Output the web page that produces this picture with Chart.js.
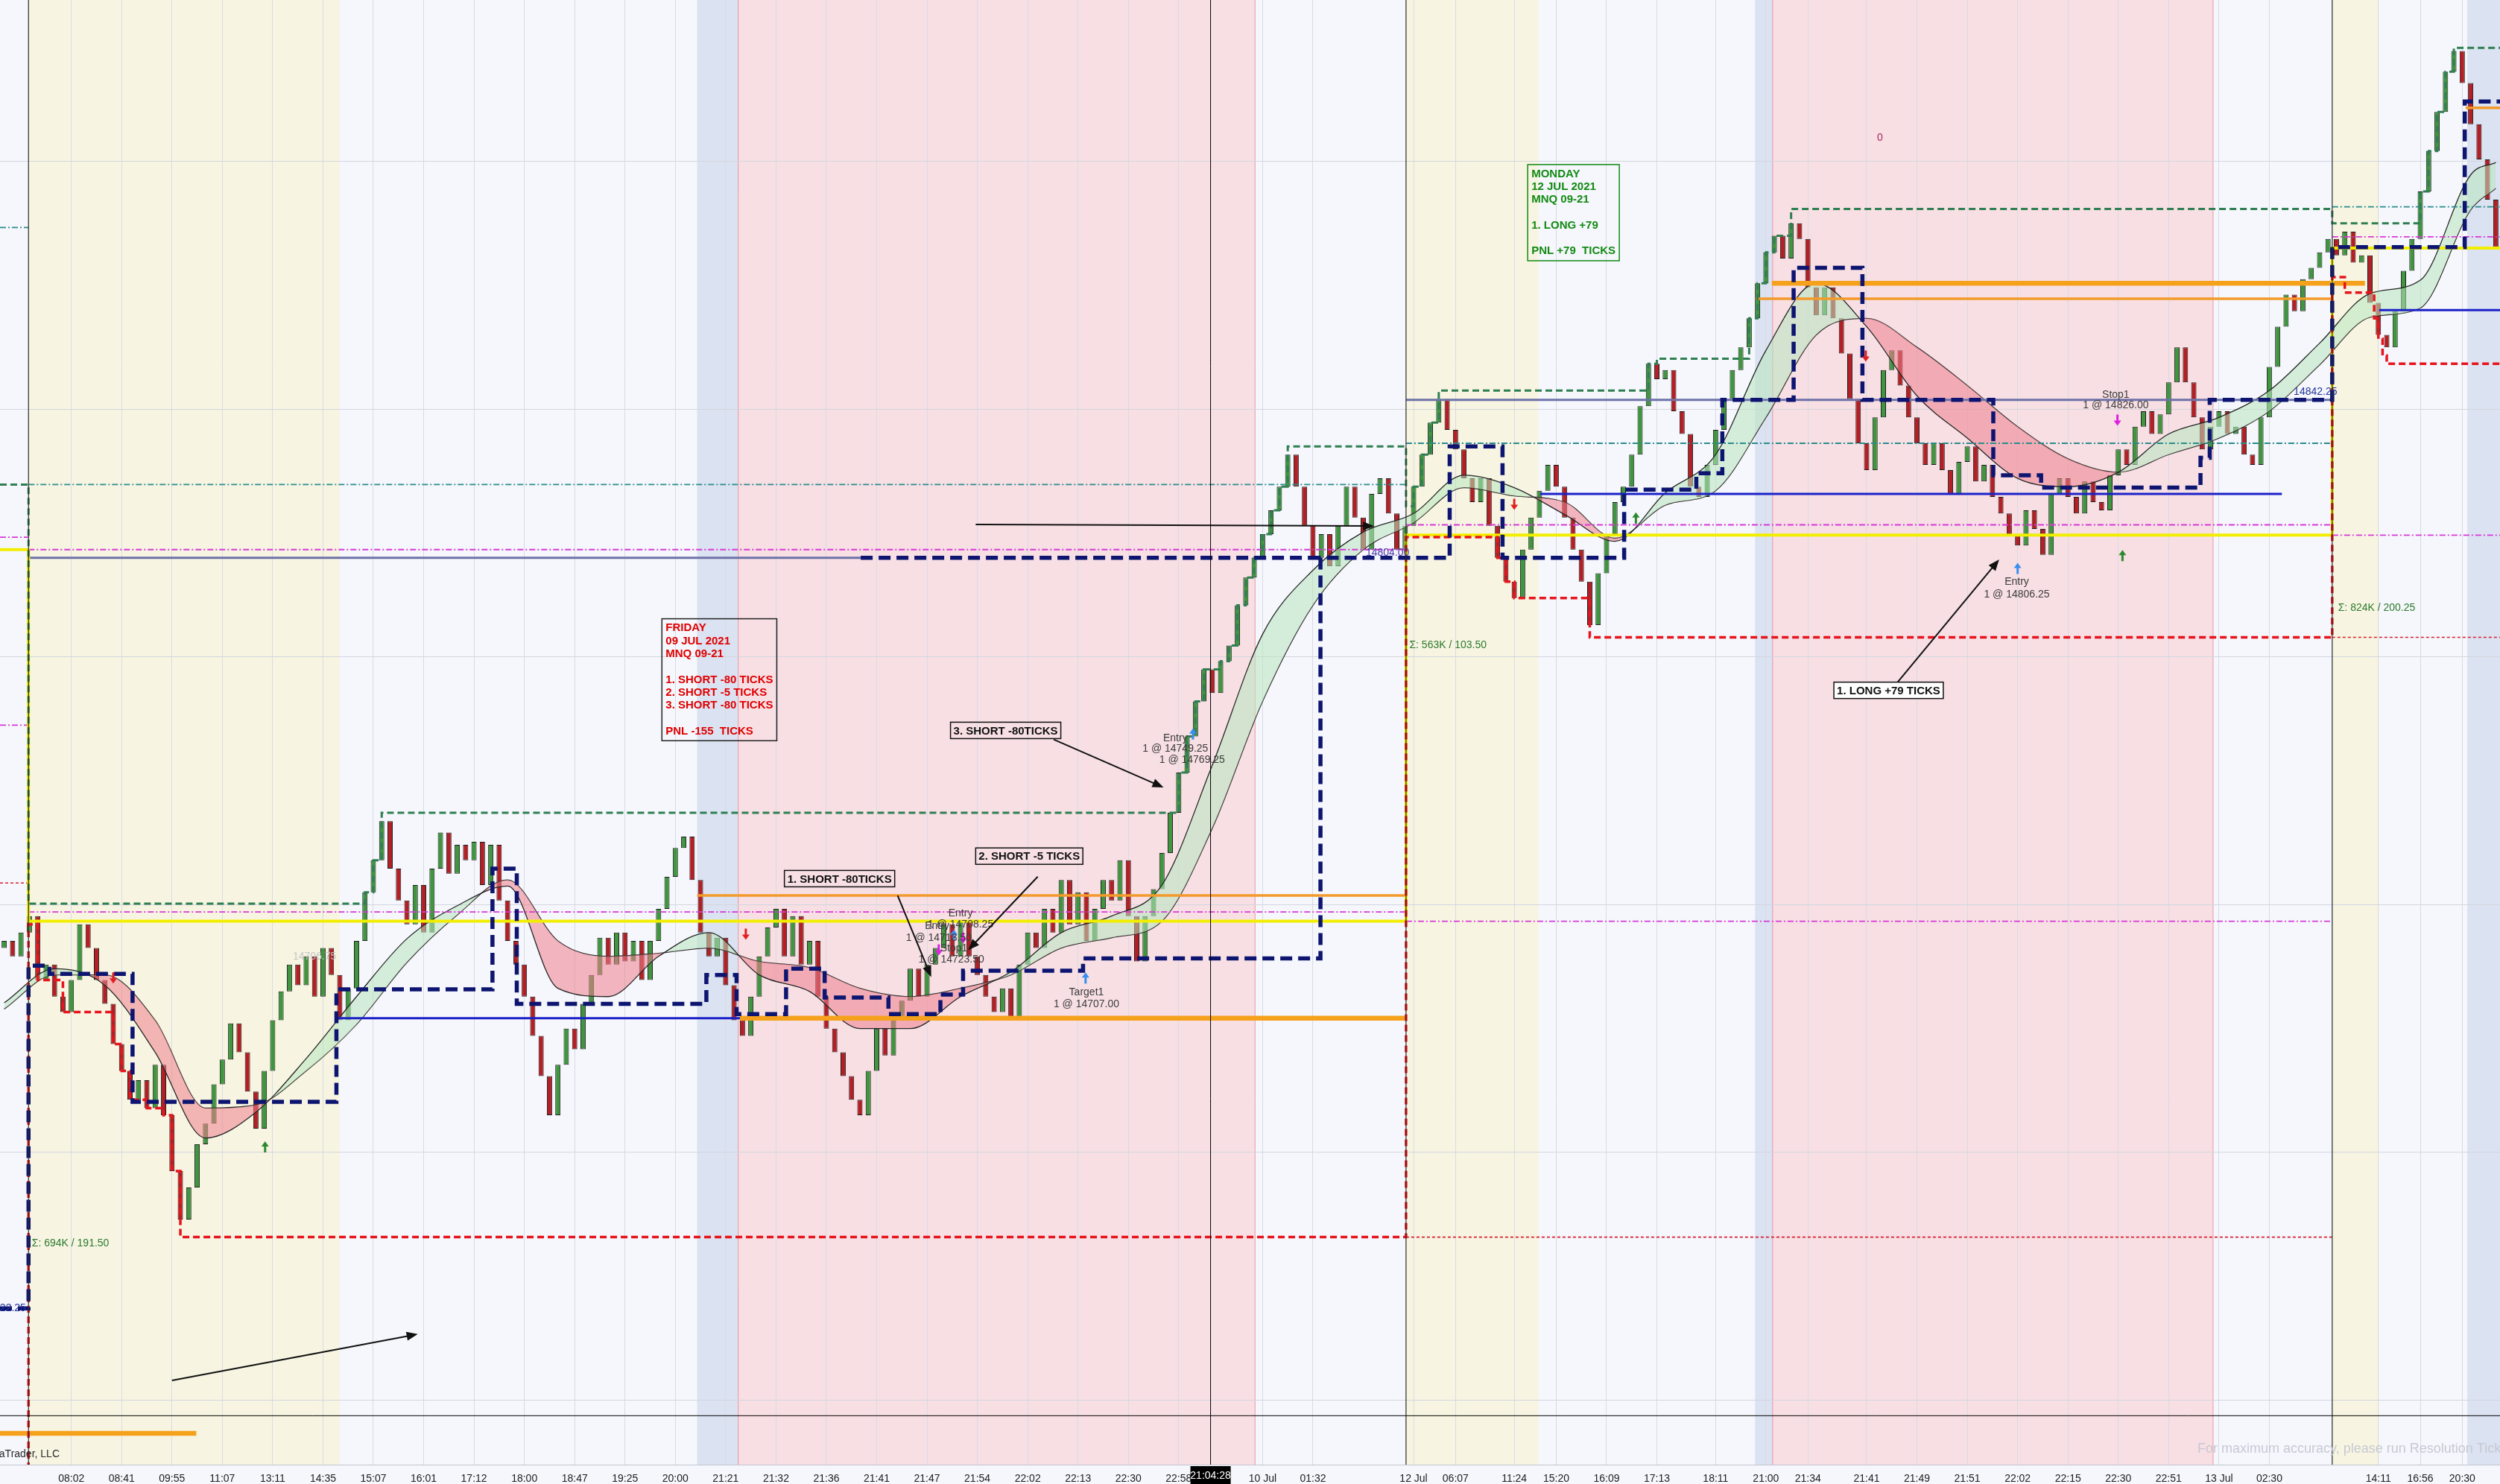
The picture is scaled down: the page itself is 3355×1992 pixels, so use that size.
<!DOCTYPE html>
<html>
<head>
<meta charset="utf-8">
<script src="https://cdn.jsdelivr.net/npm/chart.js@4.4.0/dist/chart.umd.min.js"></script>
<style>
  html, body { margin: 0; padding: 0; background: #f5f7fc; overflow: hidden; }
  #wrap { width: 3355px; height: 1992px; }
</style>
</head>
<body>
<div id="wrap"><canvas id="chart" width="3355" height="1992"></canvas></div>
<script>
// Closing price of every bar (MNQ 09-21)
const firstOpen = 14709.5;
const closes = [
  14711.25, 14707.5, 14713.25, 14717.25, 14701.75, 14705.5, 14697.75, 14694, 14701.75, 14715.25,
  14709.5, 14701.75, 14696, 14686.25, 14679.75, 14672.75, 14677.5, 14670.75, 14681.25, 14669,
  14655.5, 14643.75, 14651.5, 14662, 14667, 14676.5, 14682.5, 14691.25, 14684.25, 14674.75,
  14665.75, 14679.75, 14692, 14699, 14705.5, 14700.5, 14707.5, 14697.75, 14709.5, 14703,
  14692, 14699.75, 14711.25, 14723, 14730.75, 14740.25, 14728.75, 14721, 14715.25, 14724.75,
  14713.25, 14728.75, 14737.5, 14727.5, 14734.5, 14730.75, 14735.25, 14724.75, 14734.5, 14721,
  14711.25, 14705.5, 14697.75, 14688.25, 14678.5, 14669, 14681.25, 14690, 14685, 14696,
  14703, 14712, 14705.5, 14713.25, 14706.25, 14711.25, 14701.75, 14711.25, 14719, 14726.75,
  14733.75, 14736.5, 14726, 14713.25, 14707.5, 14712, 14700.5, 14692, 14688.25, 14697.75,
  14707.5, 14714.5, 14719, 14707.5, 14717.25, 14705.5, 14711.25, 14697.75, 14690, 14684.25,
  14678.5, 14672.75, 14669, 14679.75, 14690, 14683.5, 14692, 14696.75, 14704.5, 14697.75,
  14705.5, 14709.5, 14715.25, 14707.5, 14716, 14707.5, 14703, 14697.75, 14694, 14699.75,
  14692, 14705.5, 14713.25, 14709.5, 14719, 14713.25, 14726, 14715.25, 14723, 14711.25,
  14719, 14726, 14721, 14730.75, 14717.25, 14706.25, 14717.25, 14723.75, 14732.5, 14742.25,
  14752, 14760.75, 14769.25, 14777, 14771.25, 14779, 14782.75, 14792.5, 14799.25, 14804,
  14809.75, 14815.5, 14821.25, 14829, 14821.25, 14811.75, 14804, 14809.75, 14802, 14811.75,
  14821.25, 14813.75, 14806, 14819.5, 14823.25, 14814.75, 14806, 14811.75, 14821.25, 14829,
  14836.75, 14842.5, 14835, 14830.25, 14823.25, 14817.5, 14823.25, 14811.75, 14804, 14798.25,
  14794.25, 14806, 14813.75, 14820.25, 14826.5, 14821.25, 14813.75, 14806, 14798.25, 14787.75,
  14800.25, 14809.75, 14817.5, 14821.25, 14829, 14840.75, 14851, 14847.25, 14849.5, 14839.5,
  14834, 14821.25, 14818.75, 14826.5, 14835, 14842.5, 14849.5, 14855, 14862, 14870.5,
  14878, 14882, 14876.5, 14885, 14881.25, 14869.5, 14862.75, 14869.5, 14862, 14853.5,
  14842.5, 14831.75, 14825.25, 14838, 14849.5, 14854.25, 14845.75, 14838, 14831.75, 14826.5,
  14831.75, 14825.25, 14819.5, 14827.25, 14831, 14822.5, 14826.5, 14818.75, 14814.75, 14809.75,
  14807, 14815.5, 14811, 14804.75, 14819.5, 14823.25, 14818.75, 14814.75, 14822.5, 14817.5,
  14815.5, 14824, 14830.25, 14826.5, 14835.75, 14839.5, 14834, 14838.75, 14846.5, 14855,
  14846.5, 14838, 14830.25, 14835.75, 14839.5, 14834, 14835.75, 14829, 14826.5, 14838,
  14850.25, 14860, 14867.75, 14863.75, 14871.5, 14874.25, 14878, 14881.25, 14877.25, 14883,
  14875.5, 14877.25, 14865.75, 14858, 14855, 14863.75, 14873.5, 14881.25, 14892.75, 14902.5,
  14912, 14921.75, 14926.75, 14919, 14909, 14900.5, 14890.75, 14879.25
];

// The two moving averages, read every sixth bar
const maBars = [0, 6, 12, 18, 24, 30, 36, 42, 48, 54, 60, 66, 72, 78, 84, 90, 96, 102, 108, 114,
  120, 126, 132, 138, 144, 150, 156, 162, 168, 174, 180, 186, 192, 198, 204, 210, 216, 222, 228, 234,
  240, 246, 252, 258, 264, 270, 276, 282, 288, 294, 297];
const maFast = [14696.25, 14704.5, 14700.5, 14684.25, 14663.5, 14669.75, 14682.75, 14697.75, 14711.75, 14719.75,
  14724.5, 14699.75, 14697.75, 14707.5, 14713.25, 14703, 14699, 14690, 14690, 14697.75,
  14703.75, 14713.25, 14717.25, 14724.75, 14753.75, 14785.5, 14801, 14810.25, 14814.75, 14824,
  14821, 14814.5, 14808, 14819.75, 14829, 14854.25, 14870.5, 14860, 14843.25, 14833,
  14823.25, 14821.25, 14824.75, 14834, 14838, 14844.5, 14856, 14868, 14871.25, 14896.75, 14899.75];
const maSlow = [14694.75, 14703, 14703, 14692, 14670.75, 14671.5, 14679.75, 14691, 14706, 14717.5,
  14726, 14711.25, 14707.5, 14708.25, 14709.5, 14706.25, 14704.75, 14699.75, 14697.75, 14699.75,
  14703, 14709.5, 14712, 14716, 14738.5, 14769.25, 14792.5, 14806, 14812.5, 14821,
  14819, 14817.5, 14808.75, 14816.75, 14820.25, 14838, 14858, 14862, 14855, 14845.75,
  14835.75, 14828, 14824.75, 14829, 14833, 14839.5, 14850.75, 14862.25, 14864.5, 14888.25, 14893.5];

// Time axis: which bar carries which label
const tickBars = [8, 14, 20, 26, 32, 38, 44, 50, 56, 62, 68, 74, 80, 86, 92, 98, 104, 110, 116, 122,
  128, 134, 140, 150, 156, 168, 173, 180, 185, 191, 197, 204, 210, 215, 222, 228, 234, 240, 246, 252,
  258, 264, 270, 283, 288, 293];
const timeLabels = ['08:02', '08:41', '09:55', '11:07', '13:11', '14:35', '15:07', '16:01', '17:12', '18:00',
  '18:47', '19:25', '20:00', '21:21', '21:32', '21:36', '21:41', '21:47', '21:54', '22:02',
  '22:13', '22:30', '22:58', '10 Jul', '01:32', '12 Jul', '06:07', '11:24', '15:20', '16:09',
  '17:13', '18:11', '21:00', '21:34', '21:41', '21:49', '21:51', '22:02', '22:15', '22:30',
  '22:51', '13 Jul', '02:30', '14:11', '16:56', '20:30'];
const priceGrid = [14600, 14660, 14720, 14780, 14840, 14900];

// Session high / low trackers: [bar where the value starts, price]
const sessionHighs = [[-0.5, 14821.75], [2.9, 14720.25], [43, 14723], [44, 14730.75], [45, 14742.25],
  [140, 14752], [141, 14760.75], [142, 14769.25], [143, 14777], [145, 14779], [146, 14782.75],
  [147, 14792.5], [148, 14799.25], [149, 14804], [150, 14809.75], [151, 14815.5], [152, 14821.25],
  [153, 14831], [167.1, 14816.5], [168, 14821.25], [169, 14829], [170, 14836.75], [171, 14844.5],
  [196, 14851], [197, 14852.25], [208, 14862], [209, 14870.5], [210, 14878], [211, 14882],
  [213, 14888.5], [277.5, 14885], [288, 14892.75], [289, 14902.5], [290, 14912], [291, 14921.75],
  [292, 14927.5], [297.5, 14927.5]];
const sessionLows = [[-0.5, 14570], [2.9, 14715.25], [4, 14701.75], [7, 14694], [13, 14686.25],
  [14, 14679.75], [15, 14672.75], [17, 14670.75], [19, 14669], [20, 14655.5], [21, 14639.5],
  [167.1, 14809], [178, 14804], [179, 14798.25], [180, 14794.25], [189, 14784.75],
  [277.5, 14872], [279, 14868.25], [282.5, 14862], [283, 14857], [283.5, 14853], [284, 14851], [297.5, 14851]];
const swingLine = [[-0.5, 14622.25], [2.9, 14705.25], [5.4, 14703.25], [15.3, 14672.25], [39.6, 14699.5],
  [58.2, 14728.75], [61.1, 14696], [83.7, 14703], [87.3, 14693.5], [93.2, 14704.5], [97.8, 14697.5],
  [105.4, 14693.5], [111.6, 14698.25], [114.3, 14704], [128.6, 14707], [156.9, 14804], [172.3, 14831],
  [178.6, 14804], [193.1, 14820.5], [201.7, 14824.5], [204.8, 14842.25], [213.3, 14874.25],
  [221.5, 14842.25], [237.1, 14824], [242.8, 14821], [261.8, 14828.25], [262.9, 14842.25],
  [277.5, 14879.25], [293.3, 14914.5], [297.5, 14914.5]];
const openLine = [[-0.5, 14806], [2.9, 14716], [167.1, 14809.5], [277.5, 14879], [297.5, 14879]];

// Flat levels: [from bar, to bar, price]
const priorLows = [[-0.5, 2.9, 14725.25], [167.1, 277.5, 14639.5], [277.5, 297.5, 14784.75]];
const tealLevels = [[-0.5, 2.9, 14884], [2.9, 167.1, 14821.75], [167.1, 277.5, 14831.75], [277.5, 297.5, 14889]];
const magentaLevels = [[-0.5, 2.9, 14809], [-0.5, 2.9, 14763.5], [2.9, 167.1, 14806], [2.9, 167.1, 14718.25],
  [167.1, 277.5, 14812], [167.1, 277.5, 14716], [277.5, 297.5, 14881.75], [277.5, 297.5, 14809.5]];
const slateLevels = [[2.9, 102.1, 14804], [167.1, 277.5, 14842.25]];
const navyLevels = [[102.1, 156.9, 14804]];
const orangeThick = [[87.7, 167.1, 14692.5], [210.7, 281.4, 14870.5], [-0.5, 22.9, 14592]];
const orangeThin = [[82.6, 167.1, 14722.25], [208.8, 277.5, 14866.75], [293.4, 297.5, 14913]];
const blueLevels = [[39.8, 159.9, 14692.5], [183.1, 271.5, 14819.5], [283.1, 297.5, 14864]];

// Session shading and breaks, in bars
const bands = [
  [2.9, 40.0, '#f7f5e2'], [167.1, 182.9, '#f7f5e2'], [277.5, 283.1, '#f7f5e2'],
  [82.6, 87.5, '#dbe2f1'], [208.7, 210.8, '#dbe2f1'], [293.6, 297.5, '#dbe2f1'],
  [87.5, 149.1, '#f7dfe4'], [210.8, 263.3, '#f7dfe4']
];
const pinkEdges = [87.5, 149.1, 210.8, 263.3];
const sessionBreaks = [2.9, 167.1, 277.5];
const crossBar = 143.8, crossPrice = 14596.25, crossTime = '21:04:28';

// Notes written on the chart
const fridayLines = ['FRIDAY', '09 JUL 2021', 'MNQ 09-21', '', '1. SHORT -80 TICKS', '2. SHORT -5 TICKS', '3. SHORT -80 TICKS', '', 'PNL -155  TICKS'];
const mondayLines = ['MONDAY', '12 JUL 2021', 'MNQ 09-21', '', '1. LONG +79', '', 'PNL +79  TICKS'];
const tradeTags = [
  ['1. SHORT -80TICKS', 93.0, 14728.3, null],
  ['2. SHORT -5 TICKS', 115.8, 14733.75, null],
  ['3. SHORT -80TICKS', 112.8, 14764.2, null],
  ['1. LONG +79 TICKS', 218.1, 14773.9, '#ffffff']
];
const callArrows = [
  [106.5, 14722.2, 110.5, 14702.5], [123.2, 14726.8, 114.9, 14709], [125.1, 14760, 138.2, 14748.4],
  [225.7, 14773.9, 237.8, 14803.6], [20.0, 14604.8, 49.3, 14616.0], [115.8, 14812.1, 163.3, 14811.7]
];
const orderTexts = [
  ['Entry', 239.9, 14798.2], ['1 @ 14806.25', 239.9, 14795.1], ['Stop1', 251.7, 14843.5], ['1 @ 14826.00', 251.7, 14841],
  ['Target1', 129.0, 14698.7], ['1 @ 14707.00', 129.0, 14695.9], ['Entry', 139.6, 14760.2], ['1 @ 14749.25', 139.6, 14757.7],
  ['1 @ 14769.25', 141.6, 14755], ['Entry', 114.0, 14717.8], ['1 @ 14708.25', 114.0, 14715.1], ['Entry', 111.2, 14714.8],
  ['1 @ 14713.50', 111.4, 14712], ['Stop1', 113.2, 14709.4], ['1 @ 14723.50', 112.9, 14706.7]
];
const priceTags = [['14842.25', 275.5, 14844.1, '#24349a'], ['14804.00', 164.9, 14805.2, '#4b3aa8']];
const volumeTags = [['Σ: 694K / 191.50', 3.3, 14638], ['Σ: 563K / 103.50', 167.5, 14782.9], ['Σ: 824K / 200.25', 278.2, 14791.9]];
const markers = [
  [88.4, 14711.5, 'down', '#e02020'], [31.1, 14662.7, 'up', '#2c8a2c'], [252.5, 14805.9, 'up', '#2c8a2c'],
  [240.0, 14802.8, 'up', '#3a8ef0'], [251.9, 14836, 'down', '#e020e0'], [128.9, 14703.6, 'up', '#3a8ef0'],
  [180.0, 14815.6, 'down', '#e02020'], [221.9, 14851.5, 'down', '#e02020'], [194.5, 14815, 'up', '#2c8a2c'],
  [141.7, 14762.7, 'up', '#3a8ef0'], [113.2, 14714, 'up', '#3a8ef0'], [114.3, 14710.6, 'down', '#e020e0'],
  [111.4, 14707.7, 'down', '#e020e0'], [13.0, 14700.9, 'down', '#e02020']
];

const FONT = '"Liberation Sans", Arial, sans-serif';
Chart.defaults.font.family = FONT;

// bars open where the previous one closed
const opens = closes.map((c, i) => i === 0 ? firstOpen : closes[i - 1]);

// Function to build one flat level line
function levelSets(list, style, order) {
  return list.map(([a, b, p]) => Object.assign({
    type: 'line', data: [{ x: a, y: p }, { x: b, y: p }],
    pointRadius: 0, fill: false, order: order
  }, style));
}

// Function to build a stepped tracker line
function stepSet(points, style, order) {
  return Object.assign({
    type: 'line', data: points.map(([x, y]) => ({ x: x, y: y })),
    stepped: true, pointRadius: 0, fill: false, order: order
  }, style);
}

function arrow(ctx, x1, y1, x2, y2) {
  const a = Math.atan2(y2 - y1, x2 - x1), L = 15, H = 6;
  ctx.beginPath(); ctx.moveTo(x1, y1); ctx.lineTo(x2 - Math.cos(a) * 6, y2 - Math.sin(a) * 6); ctx.stroke();
  ctx.beginPath();
  ctx.moveTo(x2, y2);
  ctx.lineTo(x2 - L * Math.cos(a) + H * Math.sin(a), y2 - L * Math.sin(a) - H * Math.cos(a));
  ctx.lineTo(x2 - L * Math.cos(a) - H * Math.sin(a), y2 - L * Math.sin(a) + H * Math.cos(a));
  ctx.closePath(); ctx.fill();
}

function noteBox(ctx, x, y, lines, color, edge) {
  ctx.font = 'bold 15px ' + FONT;
  const lh = 17.3, pad = 4;
  const w = Math.max(...lines.map(l => ctx.measureText(l).width)) + pad * 2 + 2;
  const h = lines.length * lh + pad * 2;
  ctx.strokeStyle = edge; ctx.lineWidth = 1.5; ctx.strokeRect(x, y, w, h);
  ctx.fillStyle = color; ctx.textAlign = 'left'; ctx.textBaseline = 'middle';
  lines.forEach((l, i) => ctx.fillText(l, x + pad + 1, y + pad + lh * (i + 0.5)));
}

function marker(ctx, x, y, dir, color) {
  const s = dir === 'up' ? 1 : -1, H = 7, W = 5, L = 15;
  ctx.fillStyle = color; ctx.strokeStyle = color; ctx.lineWidth = 3;
  ctx.beginPath(); ctx.moveTo(x, y + s * (H - 1)); ctx.lineTo(x, y + s * L); ctx.stroke();
  ctx.beginPath(); ctx.moveTo(x, y); ctx.lineTo(x - W, y + s * H); ctx.lineTo(x + W, y + s * H); ctx.closePath(); ctx.fill();
}

// Background colour and session shading
const backdrop = {
  id: 'backdrop',
  beforeDraw(chart) {
    const { ctx, chartArea: ca } = chart, X = v => chart.scales.x.getPixelForValue(v);
    ctx.save();
    ctx.fillStyle = '#f5f7fc';
    ctx.fillRect(0, 0, chart.width, chart.height);
    bands.forEach(([a, b, c]) => {
      ctx.fillStyle = c;
      ctx.fillRect(X(a), ca.top, X(b) - X(a), ca.bottom - ca.top);
    });
    ctx.strokeStyle = 'rgba(226,120,130,0.7)'; ctx.lineWidth = 1;
    pinkEdges.forEach(b => { ctx.beginPath(); ctx.moveTo(X(b), ca.top); ctx.lineTo(X(b), ca.bottom); ctx.stroke(); });
    ctx.restore();
  }
};

// Notes, trade tags and the crosshair
const overlay = {
  id: 'overlay',
  afterDatasetsDraw(chart) {
    const ctx = chart.ctx, X = v => chart.scales.x.getPixelForValue(v), Y = v => chart.scales.y.getPixelForValue(v);
    ctx.save();
    ctx.textBaseline = 'middle';

    ctx.font = '14px ' + FONT; ctx.fillStyle = '#c4c4c4'; ctx.textAlign = 'center';
    ctx.fillText('14706.75', X(37.0), Y(14707.5));

    markers.forEach(([b, p, d, c]) => marker(ctx, X(b), Y(p), d, c));

    ctx.font = '14px ' + FONT; ctx.fillStyle = '#3c3c3c'; ctx.textAlign = 'center';
    orderTexts.forEach(([t, b, p]) => ctx.fillText(t, X(b), Y(p)));
    priceTags.forEach(([t, b, p, c]) => { ctx.fillStyle = c; ctx.fillText(t, X(b), Y(p)); });
    ctx.textAlign = 'right'; ctx.fillStyle = '#24349a';
    ctx.fillText('14622.25', X(2.6), Y(14622.25));

    ctx.textAlign = 'left'; ctx.fillStyle = '#2d7a2d';
    volumeTags.forEach(([t, b, p]) => ctx.fillText(t, X(b), Y(p)));

    ctx.textAlign = 'center'; ctx.fillStyle = '#a3275a';
    ctx.fillText('0', X(223.6), Y(14905.7));

    ctx.strokeStyle = '#111'; ctx.fillStyle = '#111'; ctx.lineWidth = 2;
    callArrows.forEach(([a, p, b, q]) => arrow(ctx, X(a), Y(p), X(b), Y(q)));

    ctx.font = 'bold 15px ' + FONT;
    tradeTags.forEach(([t, b, p, bg]) => {
      const x = X(b), y = Y(p), w = ctx.measureText(t).width + 8, h = 22;
      if (bg) { ctx.fillStyle = bg; ctx.fillRect(x, y, w, h); }
      ctx.strokeStyle = '#111'; ctx.lineWidth = 1.5; ctx.strokeRect(x, y, w, h);
      ctx.fillStyle = '#111'; ctx.textAlign = 'left';
      ctx.fillText(t, x + 4, y + h / 2 + 1);
    });

    noteBox(ctx, X(78.4), Y(14789.25), fridayLines, '#e00000', '#222');
    noteBox(ctx, X(181.6), Y(14899.25), mondayLines, '#138a13', '#138a13');
    ctx.restore();
  },
  afterDraw(chart) {
    const { ctx, chartArea: ca } = chart, X = v => chart.scales.x.getPixelForValue(v), Y = v => chart.scales.y.getPixelForValue(v);
    ctx.save();
    ctx.strokeStyle = '#2b2b2b'; ctx.lineWidth = 1.2;
    sessionBreaks.forEach(b => { ctx.beginPath(); ctx.moveTo(X(b), ca.top); ctx.lineTo(X(b), ca.bottom); ctx.stroke(); });

    // crosshair
    ctx.strokeStyle = '#000'; ctx.lineWidth = 1;
    ctx.beginPath(); ctx.moveTo(X(crossBar), ca.top); ctx.lineTo(X(crossBar), ca.bottom); ctx.stroke();
    ctx.beginPath(); ctx.moveTo(ca.left, Y(crossPrice)); ctx.lineTo(ca.right, Y(crossPrice)); ctx.stroke();
    ctx.fillStyle = '#000';
    ctx.fillRect(X(crossBar) - 27, ca.bottom + 2, 54, chart.height - ca.bottom - 2);
    ctx.fillStyle = '#fff'; ctx.font = '14px ' + FONT; ctx.textAlign = 'center'; ctx.textBaseline = 'middle';
    ctx.fillText(crossTime, X(crossBar), ca.bottom + 15);

    ctx.fillStyle = '#2a2a2a'; ctx.textAlign = 'right'; ctx.font = '14px ' + FONT;
    ctx.fillText('© 2021 NinjaTrader, LLC', 80, 1952);
    ctx.fillStyle = '#c6c9d3'; ctx.textAlign = 'left'; ctx.font = '18px ' + FONT;
    ctx.fillText('For maximum accuracy, please run Resolution Tick counter', 2949, 1945);
    ctx.restore();
  }
};

const lineStyle = (color, width, dash) => ({ borderColor: color, borderWidth: width, borderDash: dash || [] });

const datasets = [
  {
    type: 'bar',
    data: closes.map((c, i) => ({ x: i, y: [opens[i], c] })),
    backgroundColor: closes.map((c, i) => c >= opens[i] ? '#3f963f' : '#b31f24'),
    borderColor: '#1d1d1d', borderWidth: 1, borderSkipped: false,
    barPercentage: 0.62, categoryPercentage: 1, order: 9
  },
  {
    type: 'line', data: maBars.map((b, i) => ({ x: b, y: maFast[i] })),
    borderColor: '#262626', borderWidth: 1.3, pointRadius: 0, cubicInterpolationMode: 'monotone',
    fill: { target: 2, above: 'rgba(184,230,190,0.55)', below: 'rgba(238,128,140,0.55)' }, order: 7
  },
  {
    type: 'line', data: maBars.map((b, i) => ({ x: b, y: maSlow[i] })),
    borderColor: '#262626', borderWidth: 1.3, pointRadius: 0, cubicInterpolationMode: 'monotone',
    fill: false, order: 7
  },
  ...levelSets(blueLevels, lineStyle('#1c22c8', 3), 5),
  ...levelSets(orangeThick, lineStyle('#f6a11c', 6.5), 4),
  ...levelSets(orangeThin, lineStyle('#f39a2a', 3.5), 4),
  ...levelSets(slateLevels, lineStyle('#6e72a8', 3), 4),
  ...levelSets(tealLevels, lineStyle('#2b8c8c', 1.8, [8, 3, 2, 3]), 4),
  ...levelSets(magentaLevels, lineStyle('#d838d8', 1.8, [8, 3, 2, 3]), 4),
  ...levelSets(priorLows, lineStyle('#d82030', 1.6, [4, 3]), 4),
  stepSet(openLine, lineStyle('#f2ee00', 4), 3),
  stepSet(sessionHighs, lineStyle('#2f7f52', 3, [9, 5]), 2),
  stepSet(sessionLows, lineStyle('#e8141c', 3.5, [9, 5]), 2),
  ...levelSets(navyLevels, lineStyle('#0d1570', 5.5, [16, 8]), 1),
  stepSet(swingLine, lineStyle('#0d1570', 5.5, [16, 8]), 1)
];

new Chart(document.getElementById('chart').getContext('2d'), {
  type: 'bar',
  data: { datasets: datasets },
  options: {
    responsive: false,
    animation: false,
    devicePixelRatio: 1,
    layout: { padding: 0 },
    plugins: { legend: { display: false }, tooltip: { enabled: false } },
    scales: {
      x: {
        type: 'linear', min: -0.5, max: closes.length - 0.5, offset: false,
        afterBuildTicks: s => { s.ticks = tickBars.map(v => ({ value: v })); },
        afterFit: s => { s.height = 26; },
        ticks: { autoSkip: false, maxRotation: 0, padding: 11, color: '#1b1b1b', font: { size: 14 },
          callback: (v, i) => timeLabels[i] },
        grid: { color: '#d8dbe3', drawTicks: false, offset: false },
        border: { color: '#c3c6ce' }
      },
      y: {
        min: 14584.4, max: 14939.1, beginAtZero: false,
        afterBuildTicks: s => { s.ticks = priceGrid.map(v => ({ value: v })); },
        afterFit: s => { s.width = 0; },
        ticks: { display: false },
        grid: { color: '#d3d6de', drawTicks: false },
        border: { display: false }
      }
    }
  },
  plugins: [backdrop, overlay]
});
</script>
</body>
</html>
